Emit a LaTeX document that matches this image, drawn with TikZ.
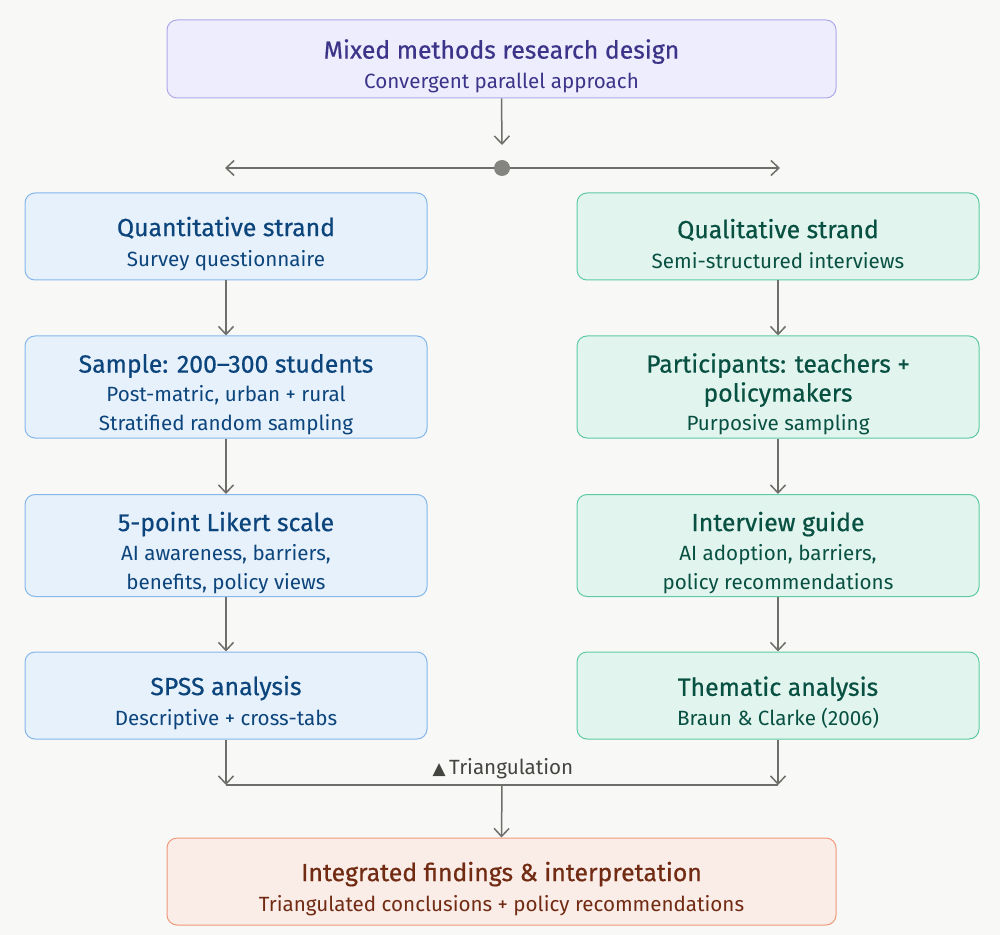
\documentclass[tikz,border=0pt]{standalone}
\usepackage{fontspec}
\setmainfont{Fira Sans}
\newfontfamily\symfont{DejaVu Sans}
\usetikzlibrary{arrows.meta}
\definecolor{bg}{HTML}{F8F8F6}
\definecolor{pfill}{HTML}{EEEDFE}\definecolor{pline}{HTML}{AFA9EC}\definecolor{ptext}{HTML}{3C3489}
\definecolor{bfill}{HTML}{E6F1FB}\definecolor{bline}{HTML}{85B7EB}\definecolor{btext}{HTML}{0C447C}
\definecolor{gfill}{HTML}{E1F5EE}\definecolor{gline}{HTML}{5DCAA5}\definecolor{gtext}{HTML}{085041}
\definecolor{ofill}{HTML}{FAECE7}\definecolor{oline}{HTML}{F0997B}\definecolor{otext}{HTML}{712B13}
\definecolor{conn}{HTML}{6E6E6A}
\definecolor{labeltext}{HTML}{444441}
\tikzset{
  boxbase/.style={rounded corners=5pt, line width=0.5pt, align=center, inner sep=0pt, font=\fontsize{10pt}{14.5pt}\selectfont},
  purplebox/.style={boxbase, fill=pfill, draw=pline, text=ptext},
  bluebox/.style={boxbase, fill=bfill, draw=bline, text=btext},
  greenbox/.style={boxbase, fill=gfill, draw=gline, text=gtext},
  orangebox/.style={boxbase, fill=ofill, draw=oline, text=otext},
  wide/.style={minimum width=334.5pt},
  col/.style={minimum width=201pt},
  tall/.style={minimum height=51pt},
  shortb/.style={minimum height=43.5pt},
  topb/.style={minimum height=39pt},
  flow/.style={draw=conn, line width=0.75pt, -{Straight Barb[length=4pt,width=7.5pt,line width=0.75pt]}},
  plainline/.style={draw=conn, line width=0.75pt},
}
% first title line carries a strut that pushes the text block down by about 4pt
\newcommand{\ttl}[1]{{\fontsize{12.4pt}{14.5pt}\selectfont\addfontfeature{FakeBold=0.6}#1}}
\newcommand{\ttlf}[1]{{\fontsize{12.4pt}{14.5pt}\selectfont\addfontfeature{FakeBold=0.6}\rule{0pt}{\dimexpr\fontcharht\font`\d+7.5pt\relax}#1}}
\newcommand{\sub}[1]{{\fontsize{10.3pt}{14.5pt}\selectfont #1}}
\begin{document}
\begin{tikzpicture}[x=0.5pt,y=-0.5pt]
\fill[bg] (0,0) rectangle (1000,935);
\useasboundingbox (0,0) rectangle (1000,935);

\node[purplebox, wide, topb] (top) at (501.5,59) {\ttlf{Mixed methods research design}\\[0.5pt]\sub{Convergent parallel approach}};

\coordinate (split) at (502,168);
\coordinate (splitL) at (225,168);
\coordinate (splitR) at (780,168);
\draw[flow] (top.south) -- ([yshift=11.5pt]split);
\draw[plainline, {Straight Barb[length=4pt,width=7.5pt,line width=0.75pt]}-{Straight Barb[length=4pt,width=7.5pt,line width=0.75pt]}] (splitL) -- (splitR);
\fill[conn!85] (split) circle (4pt);

\node[bluebox, col, shortb] (q1) at (226,236.5) {\ttlf{Quantitative strand}\\[0.5pt]\sub{Survey questionnaire}};
\node[bluebox, col, tall] (q2) at (226,387) {\ttlf{Sample: 200--300 students}\\\sub{Post-matric, urban + rural}\\\sub{Stratified random sampling}};
\node[bluebox, col, tall] (q3) at (226,545.5) {\ttlf{5-point Likert scale}\\\sub{AI awareness, barriers,}\\\sub{benefits, policy views}};
\node[bluebox, col, shortb] (q4) at (226,695.5) {\ttlf{SPSS analysis}\\[0.5pt]\sub{Descriptive + cross-tabs}};

\node[greenbox, col, shortb] (r1) at (778,236.5) {\ttlf{Qualitative strand}\\[0.5pt]\sub{Semi-structured interviews}};
\node[greenbox, col, tall] (r2) at (778,387) {\ttlf{Participants: teachers +}\\\ttl{policymakers}\\\sub{Purposive sampling}};
\node[greenbox, col, tall] (r3) at (778,545.5) {\ttlf{Interview guide}\\\sub{AI adoption, barriers,}\\\sub{policy recommendations}};
\node[greenbox, col, shortb] (r4) at (778,695.5) {\ttlf{Thematic analysis}\\[0.5pt]\sub{Braun \& Clarke (2006)}};

\draw[flow] (q1) -- (q2);
\draw[flow] (q2) -- (q3);
\draw[flow] (q3) -- (q4);
\draw[flow] (r1) -- (r2);
\draw[flow] (r2) -- (r3);
\draw[flow] (r3) -- (r4);

\node[orangebox, wide, shortb] (fin) at (501.5,881.5) {\ttlf{Integrated findings \& interpretation}\\[0.5pt]\sub{Triangulated conclusions + policy recommendations}};

\coordinate (mergeL) at (226,785);
\coordinate (mergeR) at (778,785);
\coordinate (merge) at (502,785);
\draw[flow] (q4.south) -- (mergeL);
\draw[flow] (r4.south) -- (mergeR);
\draw[plainline] (mergeL) -- (mergeR);
\draw[flow] (merge) -- (fin.north);
\node[text=labeltext, font=\fontsize{10.3pt}{12pt}\selectfont] (tri) at (503,769) {{\symfont\fontsize{8.5pt}{10pt}\selectfont ▲}\,Triangulation};
\end{tikzpicture}
\end{document}
